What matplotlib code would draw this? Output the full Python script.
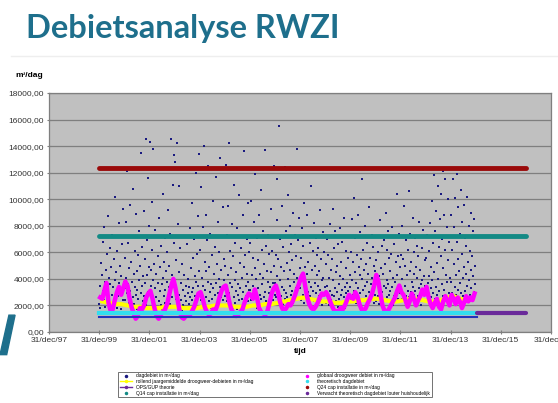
import numpy as np
import matplotlib
matplotlib.use('Agg')
import matplotlib.pyplot as plt
from matplotlib.lines import Line2D
from matplotlib.patches import Polygon
import matplotlib.transforms as mtransforms

# dagdebiet in m3/dag, ~weekly readings per year
dag = {
    2000: [2100, 3500, 1800, 5200, 2700, 4300, 1500, 6800, 3100, 2400, 7900, 3800, 1900, 4700, 2900, 5900, 2300, 3300,
           8700, 1700, 4100, 2600, 6300, 3600, 2000, 4900, 2800, 7300, 1600, 3400, 5500, 2200, 3900, 10200, 2500, 4500,
           1800, 6100, 3000, 2700, 8200, 3700, 2100, 5000, 2900, 4200, 1700, 6600, 3200, 2400, 9300, 3800],
    2001: [3300, 5600, 2400, 8300, 4100, 2900, 12100, 3600, 6700, 2200, 4800, 9600, 3100, 5300, 1900, 7200, 3800, 2600,
           10800, 4400, 2100, 6100, 3400, 2800, 8900, 1700, 4600, 3200, 5800, 2500, 7600, 3900, 1800, 5000, 2900, 13500,
           3500, 6400, 2300, 4200, 9100, 2700, 5500, 3700, 14500, 2000, 6900, 4300, 11600, 3000, 8000, 4900],
    2002: [2800, 14300, 4700, 3500, 9800, 2400, 6200, 3900, 13800, 2100, 5100, 3300, 7700, 2600, 4400, 12300, 1800, 3700,
           5700, 2300, 8600, 3100, 4900, 2000, 6500, 3600, 1700, 4100, 10400, 2700, 5300, 3200, 7100, 2200, 4600, 1900,
           3800, 6000, 2500, 9200, 3400, 5000, 2100, 7400, 3000, 14500, 4300, 2600, 11100, 3900, 6700, 13300],
    2003: [3600, 12800, 2500, 5400, 14200, 3100, 8100, 2200, 4500, 11000, 2800, 6300, 1900, 3700, 2400, 5100, 1600, 3200,
           2000, 4300, 1800, 2700, 1500, 3500, 2300, 6600, 1700, 2900, 4000, 2100, 3400, 7800, 2600, 4800, 1900, 3000,
           9700, 2400, 5600, 3300, 2000, 7000, 4200, 2700, 12000, 3800, 5900, 2500, 8700, 3500, 4600, 13400],
    2004: [3000, 6200, 2400, 10900, 4100, 2700, 7900, 3500, 14000, 2100, 5300, 3200, 8800, 2600, 4600, 1900, 6900, 3800,
           12500, 2300, 4900, 3000, 7400, 1800, 3600, 5800, 2500, 9900, 3300, 2000, 4400, 6400, 2800, 11700, 3700, 1700,
           5100, 2900, 8300, 4000, 2200, 6000, 3400, 13100, 2600, 4700, 7200, 3100, 2400, 9400, 3900, 5500],
    2005: [2700, 5000, 12600, 3200, 7300, 2300, 4300, 9500, 2900, 14200, 3700, 6100, 2000, 4800, 8100, 3400, 1800, 5700,
           2600, 11100, 3900, 2200, 6700, 3100, 4500, 1700, 7800, 2800, 3600, 10300, 2400, 5200, 3300, 1900, 6300, 4100,
           2500, 8800, 3000, 4900, 13600, 2100, 5800, 3500, 2700, 7000, 4400, 2300, 9700, 3800, 6000, 3200],
    2006: [3200, 6700, 2400, 9900, 4300, 2000, 5600, 3500, 8300, 2700, 4800, 11900, 2900, 4000, 1800, 7100, 3300, 5400,
           2200, 8800, 2800, 4400, 10700, 2500, 6200, 3600, 2100, 7600, 4100, 2600, 5100, 13700, 3000, 6500, 2300, 4600,
           1700, 3800, 7300, 2900, 5900, 3400, 2000, 9300, 4500, 3100, 6100, 2400, 3700, 12500, 5000, 2800],
    2007: [3700, 5800, 2600, 8400, 4200, 11500, 3000, 5500, 2300, 15500, 3900, 7000, 2700, 4900, 3400, 9500, 2100, 6400,
           3200, 4600, 12400, 2500, 7600, 2900, 5200, 2600, 10300, 4000, 6000, 2400, 3500, 8000, 4700, 2800, 6600, 5400,
           3100, 9000, 2200, 4400, 3800, 7300, 2700, 5700, 3300, 13800, 4100, 2500, 6900, 3600, 8600, 4800],
    2008: [3300, 5600, 2400, 7800, 4000, 2800, 6500, 3600, 9700, 2200, 4900, 3100, 7200, 2600, 4400, 8800, 3000, 5300,
           2000, 3800, 6700, 2700, 3400, 11000, 2500, 4700, 6100, 3100, 8200, 2300, 5000, 3700, 7100, 2900, 4300, 5800,
           2100, 3500, 6300, 2700, 4600, 9200, 3200, 2400, 5500, 3900, 2000, 7500, 4100, 2800, 6000, 3400],
    2009: [2900, 5100, 2200, 7000, 3500, 2600, 5800, 4100, 2000, 8100, 3100, 4700, 2400, 5500, 2800, 9300, 2100, 3900,
           6300, 2700, 3300, 7600, 2300, 4500, 3000, 5000, 1900, 6600, 3600, 2500, 7800, 4200, 2800, 5300, 3200, 6800,
           2200, 4000, 2600, 8600, 3400, 1800, 4800, 2900, 6100, 3700, 2400, 5600, 3100, 7200, 2700, 4300],
    2010: [3400, 6000, 2400, 8500, 3900, 2800, 5300, 10100, 3100, 4500, 7100, 2200, 3700, 5800, 2600, 8800, 3300, 4900,
           2000, 4300, 7500, 2900, 5500, 2500, 4000, 11500, 3200, 6200, 2300, 4700, 8000, 3500, 5100, 2700, 6700, 3800,
           2100, 4400, 3000, 9400, 2600, 5600, 3600, 2400, 7300, 4100, 2900, 6400, 3300, 5000, 2200, 4600],
    2011: [2800, 5400, 2300, 7200, 3700, 2700, 6000, 4200, 2100, 8400, 3200, 4800, 2500, 6500, 3000, 4400, 1900, 6900,
           3500, 5100, 2400, 9000, 3300, 3900, 6200, 2600, 3600, 7600, 2800, 5600, 3100, 4600, 2200, 5900, 3400, 7900,
           2000, 4100, 2700, 6600, 3800, 2300, 5300, 3000, 10400, 4300, 2500, 5700, 3200, 7400, 2900, 4900],
    2012: [3200, 5800, 2500, 8000, 4000, 2900, 5500, 2300, 9500, 3500, 5000, 2700, 6900, 4300, 2100, 6200, 3100, 10600,
           2600, 4600, 7400, 3000, 5300, 2400, 3800, 8600, 3400, 6000, 2800, 4400, 7100, 3100, 4900, 2200, 6500, 4100,
           2700, 5700, 3300, 8300, 2500, 4700, 3600, 2000, 6300, 3900, 2900, 7700, 4200, 2400, 5400, 3500],
    2013: [3000, 5600, 2400, 7300, 3700, 2700, 6100, 4200, 2200, 8200, 3300, 4900, 2600, 9900, 3900, 6700, 2900, 11800,
           4500, 2500, 7600, 3400, 9100, 5200, 2800, 11000, 4000, 6400, 3100, 8500, 2300, 5700, 10400, 3600, 7000, 12100,
           2700, 4800, 8800, 3200, 6200, 11500, 4300, 2600, 7900, 3800, 10000, 5400, 2900, 6800, 4100, 12300],
    2014: [3800, 8800, 2900, 6200, 11500, 2600, 5100, 7900, 3400, 10100, 4300, 2800, 6800, 11900, 3200, 5500, 9400, 2500,
           4600, 7400, 3700, 10700, 2900, 5900, 8300, 4100, 2700, 9600, 4900, 3100, 7100, 4400, 6500, 3500, 10200, 5300,
           2400, 8000, 3900, 6100, 2800, 9000, 4700, 3300, 5700, 2600, 7600, 4200, 3000, 8500, 3600, 5000],
}

# globaal droogweer debiet, monthly
droog = [2600, 2500, 3100, 3700, 2200, 1600, 1700, 2400, 3000, 3400, 2800, 3300,
         3800, 3500, 2600, 1900, 1400, 1000, 1200, 1800, 1700, 2000, 2600, 2900,
         3100, 2500, 1800, 1200, 1000, 1300, 1500, 1700, 2100, 2800, 3500, 4000,
         3300, 2400, 1600, 1100, 1000, 1200, 1400, 1300, 1600, 1900, 2400, 2900,
         3000, 2500, 1900, 1500, 1300, 1400, 1700, 1600, 2000, 2600, 3100, 3400,
         3500, 2800, 2100, 1600, 1400, 1200, 1300, 1500, 1700, 2200, 2600, 2900,
         2800, 2500, 3200, 2600, 1800, 1500, 1400, 1300, 1600, 2200, 2900, 3300,
         3500, 3000, 2300, 1800, 1600, 1800, 2100, 2000, 2300, 2700, 3200, 3600,
         4100, 4400, 3500, 2600, 2100, 1800, 1700, 1900, 2200, 2600, 2900, 2800,
         3000, 2700, 2300, 1900, 1600, 1500, 1600, 1800, 1700, 2000, 2400, 2800,
         2600, 2500, 3000, 2700, 2100, 1700, 1600, 1800, 2200, 2500, 2900, 3500,
         4300, 3800, 2900, 2000, 1600, 1500, 1700, 2000, 2300, 2600, 3100, 3500,
         3000, 2800, 2400, 1900, 2300, 2900, 2500, 2000, 2400, 2700, 3200, 2800,
         3400, 2600, 2100, 1800, 2200, 2500, 1900, 1700, 2300, 2700, 2400, 2000,
         2800, 2500, 2100, 2600, 2300, 1800, 2200, 2700, 2300, 2600, 2400, 2900]

# rollend jaargemiddelde, quarterly
rollend = [2300, 2200, 2100, 2100, 2000, 1900, 1900, 1800, 1800, 1800, 1900, 1900,
           1900, 1800, 1800, 1800, 1900, 1900, 2000, 2000, 2000, 1900, 1900, 1900,
           2000, 2000, 2100, 2100, 2200, 2300, 2400, 2500, 2600, 2500, 2400, 2300,
           2300, 2200, 2200, 2300, 2300, 2400, 2400, 2500, 2500, 2400, 2300, 2300,
           2400, 2500, 2500, 2400, 2300, 2300, 2400, 2600, 2700, 2500, 2400, 2500]

q24 = 12350
q14 = 7200
ops_gup = 1150
theor = 1400
verwacht = 1450

tick_years = [1997, 1999, 2001, 2003, 2005, 2007, 2009, 2011, 2013, 2015, 2017]

fig = plt.figure(figsize=(5.58, 4.03), dpi=100)
fig.patch.set_facecolor('white')

fig.text(0.047, 0.905, 'Debietsanalyse RWZI', fontsize=23.5, fontweight='bold',
         color='#1E6F8C', family='Lato')
fig.add_artist(Line2D([0.02, 1.0], [0.86, 0.86], color='#eeeeee', lw=1))
fig.add_artist(Polygon([[0.0, 0.12], [0.012, 0.12], [0.027, 0.218], [0.016, 0.218]],
                       closed=True, color='#1E6F8C', transform=fig.transFigure))

ax = fig.add_axes([0.0878, 0.1762, 0.8996, 0.593])
ax.set_facecolor('#C0C0C0')

for yr, vals in dag.items():
    d = np.datetime64(f'{yr}-01-03') + np.arange(len(vals)) * np.timedelta64(7, 'D')
    ax.scatter(d, vals, s=2, color='#1A1A80', marker='s', lw=0, zorder=3)

months = np.arange('2000-01', '2015-01', dtype='datetime64[M]').astype('datetime64[D]') + 14
quarters = np.arange('2000-01', '2015-01', 3, dtype='datetime64[M]').astype('datetime64[D]') + 45
ax.plot(quarters, rollend, color='#FFFF00', lw=3, zorder=4)
ax.plot(months, droog, color='#FF00FF', lw=3.2, zorder=5)

d0, d15, d17 = np.datetime64('2000-01-01'), np.datetime64('2015-01-15'), np.datetime64('2017-01-01')
ax.plot([d0, d15], [theor, theor], color='#33DDEE', lw=3, zorder=6)
ax.plot([d0, d15], [ops_gup, ops_gup], color='#2233BB', lw=1.5, zorder=6)
ax.plot([d15, d17], [verwacht, verwacht], color='#6A2A9A', lw=3, zorder=6, solid_capstyle='round')
ax.plot([d0, d17], [q14, q14], color='#138A85', lw=3.5, zorder=6, solid_capstyle='round')
ax.plot([d0, d17], [q24, q24], color='#9A0A0A', lw=3.5, zorder=6, solid_capstyle='round')

ax.set_xlim(np.datetime64('1997-12-31'), np.datetime64('2017-12-31'))
ax.set_ylim(0, 18000)
ax.set_yticks(range(0, 18001, 2000))
ax.set_yticklabels([f'{v},00' for v in range(0, 18001, 2000)])
ax.set_xticks([np.datetime64(f'{y}-12-31') for y in tick_years])
xlabels = [f'31/dec/{y % 100:02d}' for y in tick_years]
xlabels[-1] = '31/dec'
ax.set_xticklabels(xlabels)
ax.grid(axis='y', color='#7F7F7F', lw=0.9)
ax.set_axisbelow(True)
for s in ax.spines.values():
    s.set_color('#7F7F7F')
    s.set_linewidth(0.9)
ax.tick_params(labelsize=6, colors='#7F7F7F', labelcolor='#333333', length=3, direction='inout',
               labelfontfamily='Liberation Sans')
ax.tick_params(axis='x', pad=2)
ax.tick_params(axis='y', pad=2)
last = ax.get_xticklabels()[-1]
last.set_transform(last.get_transform() + mtransforms.ScaledTranslation(-5 / 100, 0, fig.dpi_scale_trans))
ax.set_xlabel('tijd', fontsize=6, fontweight='bold', family='Liberation Sans', labelpad=3)
fig.text(0.027, 0.808, 'm³/dag', fontsize=6, fontweight='bold', family='Liberation Sans')

handles = [
    Line2D([], [], ls='', marker='.', ms=3, color='#1A1A80'),
    Line2D([], [], color='#FFFF00', lw=1, marker='.', ms=3),
    Line2D([], [], color='#6A2A9A', lw=1, marker='.', ms=3),
    Line2D([], [], ls='', marker='.', ms=3, color='#138A85'),
    Line2D([], [], ls='', marker='.', ms=3, color='#FF00FF'),
    Line2D([], [], ls='', marker='.', ms=3, color='#33DDEE'),
    Line2D([], [], ls='', marker='.', ms=3, color='#9A0A0A'),
    Line2D([], [], ls='', marker='.', ms=3, color='#6A2A9A'),
]
labels = ['dagdebiet in m³/dag', 'rollend jaargemiddelde droogweer-debieten in m³/dag', 'OPS/GUP theorie',
          'Q14 cap installatie in m³/dag', 'globaal droogweer debiet in m³/dag', 'theoretisch dagdebiet',
          'Q24 cap installatie in m³/dag', 'Verwacht theoretisch dagdebiet louter huishoudelijk']
leg = fig.legend(handles, labels, ncol=2, loc='center', bbox_to_anchor=(0.208, 0.01, 0.57, 0.072),
                 mode='expand', frameon=True, fancybox=False, handlelength=2.5,
                 labelspacing=0.15, borderpad=0.3, columnspacing=1, prop={'family': 'Liberation Sans', 'size': 3.5})
leg.get_frame().set_edgecolor('#333333')
leg.get_frame().set_linewidth(0.6)

fig.savefig('out.png', dpi=100)
